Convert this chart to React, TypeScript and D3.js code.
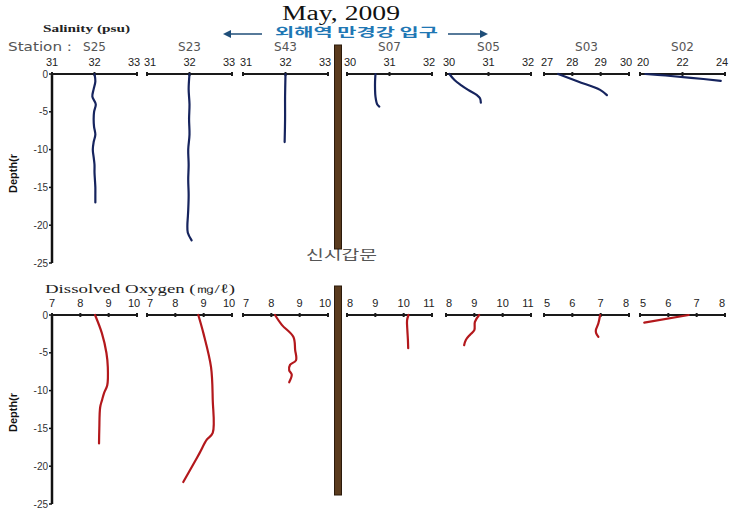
import React from "react";
import * as d3 from "d3";

const stations = ["S25", "S23", "S43", "S07", "S05", "S03", "S02"];
const salDomains: [number, number][] = [[31, 33], [31, 33], [31, 33], [30, 32], [30, 32], [27, 30], [20, 24]];
const salTicks: number[][] = [[31, 32, 33], [31, 32, 33], [31, 32, 33], [30, 31, 32], [30, 31, 32], [27, 28, 29, 30], [20, 22, 24]];
const doDomains: [number, number][] = [[7, 10], [7, 10], [7, 10], [8, 11], [8, 11], [5, 8], [5, 8]];
const doTicks: number[][] = [[7, 8, 9, 10], [7, 8, 9, 10], [7, 8, 9, 10], [8, 9, 10, 11], [8, 9, 10, 11], [5, 6, 7, 8], [5, 6, 7, 8]];
const depthTicks = [0, -5, -10, -15, -20, -25];

// [depth, salinity]
const salS25: [number, number][] = [[0, 32.0], [-1, 32.02], [-2, 31.98], [-3, 31.95], [-4, 32.03], [-5, 31.99], [-6, 31.98], [-7, 31.99], [-8, 32.02], [-9, 31.98], [-10, 31.96], [-11, 31.98], [-12, 32.0], [-13, 32.0], [-14, 32.01], [-15, 32.02], [-16, 32.02], [-17, 32.02]];
const salS23: [number, number][] = [[0, 32.0], [-2, 31.98], [-4, 32.0], [-6, 31.99], [-8, 32.0], [-10, 31.97], [-12, 31.98], [-14, 31.97], [-16, 31.98], [-18, 31.97], [-19, 31.96], [-20, 31.95], [-21, 31.96], [-22, 32.05]];
const salS43: [number, number][] = [[0, 32.0], [-3, 31.99], [-6, 31.99], [-9, 31.98]];
const salS07: [number, number][] = [[0, 30.67], [-1, 30.66], [-2, 30.66], [-3, 30.67], [-4, 30.71], [-4.3, 30.76]];
const salS05: [number, number][] = [[0, 30.08], [-0.8, 30.2], [-1.5, 30.36], [-2.1, 30.52], [-2.8, 30.73], [-3.2, 30.8], [-3.8, 30.82]];
const salS03: [number, number][] = [[0, 27.5], [-1, 28.2], [-2.1, 28.98], [-2.8, 29.22]];
const salS02: [number, number][] = [[0, 20.25], [-0.2, 21.2], [-0.5, 22.4], [-0.9, 23.8]];
const salinity = [salS25, salS23, salS43, salS07, salS05, salS03, salS02];

// [depth, dissolved oxygen]
const doS25: [number, number][] = [[0, 8.52], [-2.4, 8.76], [-5, 8.92], [-6.9, 8.97], [-9.3, 8.95], [-10.3, 8.84], [-11.2, 8.77], [-12.2, 8.7], [-15, 8.67], [-17, 8.66]];
const doS23: [number, number][] = [[0, 8.81], [-2.4, 8.99], [-6.9, 9.26], [-11.2, 9.32], [-15.6, 9.32], [-16.5, 9.11], [-18.3, 8.85], [-20.1, 8.58], [-22.1, 8.28]];
const doS43: [number, number][] = [[0, 8.13], [-1.3, 8.37], [-2.9, 8.78], [-4.6, 8.84], [-6.0, 8.87], [-6.6, 8.66], [-7.3, 8.63], [-7.9, 8.72], [-8.9, 8.63]];
const doS07: [number, number][] = [[0, 10.17], [-0.7, 10.12], [-2, 10.13], [-3.3, 10.15], [-4.4, 10.16]];
const doS05: [number, number][] = [[0, 9.17], [-0.9, 9.02], [-2.0, 9.0], [-2.6, 8.85], [-3.3, 8.7], [-4.0, 8.64]];
const doS03: [number, number][] = [[0, 6.98], [-1.1, 6.92], [-2.0, 6.83], [-2.4, 6.84], [-2.9, 6.92]];
const doS02: [number, number][] = [[0, 6.72], [-1.0, 5.15]];
const oxygen = [doS25, doS23, doS43, doS07, doS05, doS03, doS02];

const panelLeft = [52, 147, 243, 347, 446, 544, 640];
const panelWidth = 85;
const tickFont = "Liberation Sans Narrow, Liberation Sans, Arial, sans-serif";

function Panel({ i, y0, domains, ticks, data, color, depth }: any) {
  const x = d3.scaleLinear().domain(domains[i]).range([panelLeft[i], panelLeft[i] + panelWidth]);
  const line = d3
    .line<[number, number]>()
    .x((d) => x(d[1]))
    .y((d) => depth(d[0]))
    .curve(d3.curveCatmullRom);
  const tk: number[] = ticks[i];
  return (
    <g>
      <line x1={x.range()[0]} x2={x.range()[1]} y1={y0} y2={y0} stroke="#1a1a1a" strokeWidth={2} />
      {tk.map((t: number, j: number) => {
        const shift = i === 0 && j === 0 ? 0 : j === 0 ? 3 : j === tk.length - 1 ? -3 : 0;
        return (
          <g key={t}>
            <line x1={x(t)} x2={x(t)} y1={y0 - 2} y2={y0 + 2} stroke="#1a1a1a" strokeWidth={2} />
            <text x={x(t) + shift} y={y0 - 8} textAnchor="middle" fontSize={11} fontFamily={tickFont} fill="#222">
              {t}
            </text>
          </g>
        );
      })}
      <path d={line(data[i]) || ""} fill="none" stroke={color} strokeWidth={2.2} strokeLinecap="round" />
    </g>
  );
}

function DepthAxis({ depth, x0, labelShift }: any) {
  const r = depth.range();
  return (
    <g>
      <line x1={x0} x2={x0} y1={r[0]} y2={r[1]} stroke="#111" strokeWidth={2.5} />
      {depthTicks.map((t) => (
        <g key={t}>
          <line x1={x0 - 3} x2={x0} y1={depth(t)} y2={depth(t)} stroke="#111" strokeWidth={1.5} />
          <text x={x0 - 4} y={depth(t) + 3.5} textAnchor="end" fontSize={10} fontFamily="Liberation Sans, Arial, sans-serif" fill="#333">
            {t}
          </text>
        </g>
      ))}
      <text
        transform={`translate(17,${(r[0] + r[1]) / 2 + labelShift}) rotate(-90)`}
        textAnchor="middle"
        fontSize={11}
        fontWeight="bold"
        fontFamily="Liberation Sans Narrow, Liberation Sans, Arial, sans-serif"
        fill="#111"
      >
        Depth(r
      </text>
    </g>
  );
}

export default function App() {
  const W = 751;
  const H = 513;
  const depthTop = d3.scaleLinear().domain([0, -25]).range([74, 263]);
  const depthBot = d3.scaleLinear().domain([0, -25]).range([315, 504]);
  const salColor = "#16245e";
  const doColor = "#b3181c";
  return (
    <svg width={W} height={H} style={{ position: "absolute", left: 0, top: 0, background: "#fff" }}>
      <rect x={0} y={0} width={W} height={H} fill="#fff" />
      <text x={341} y={20} textAnchor="middle" fontSize={20} fontFamily="Liberation Serif, Times New Roman, serif" fill="#111" textLength={118} lengthAdjust="spacingAndGlyphs">
        May, 2009
      </text>
      <text x={43} y={32} fontSize={11} fontWeight="bold" fontFamily="Liberation Serif, serif" fill="#222" textLength={87} lengthAdjust="spacingAndGlyphs">
        Salinity (psu)
      </text>
      <text x={8} y={51} fontSize={12} fontFamily="DejaVu Sans, sans-serif" fill="#555" textLength={64} lengthAdjust="spacingAndGlyphs">
        Station :
      </text>
      {stations.map((s, i) => (
        <text key={s} x={panelLeft[i] + panelWidth / 2} y={51} textAnchor="middle" fontSize={12} fontFamily="DejaVu Sans, sans-serif" fill="#555">
          {s}
        </text>
      ))}
      <defs>
        <marker id="ah" markerWidth={8} markerHeight={8} refX={6} refY={4} orient="auto" markerUnits="userSpaceOnUse">
          <path d="M0,0 L8,4 L0,8 Z" fill="#1f4e79" />
        </marker>
      </defs>
      <line x1={262} y1={34} x2={225} y2={34} stroke="#1f4e79" strokeWidth={1.5} markerEnd="url(#ah)" />
      <line x1={448} y1={34} x2={486} y2={34} stroke="#1f4e79" strokeWidth={1.5} markerEnd="url(#ah)" />
      <text x={275} y={37} fontSize={12} fontWeight="bold" fontFamily="Noto Sans CJK KR, sans-serif" fill="#1f77b4" textLength={163} lengthAdjust="spacingAndGlyphs">
        외해역 만경강 입구
      </text>

      <DepthAxis depth={depthTop} x0={52} labelShift={5} />
      {stations.map((s, i) => (
        <Panel key={s} i={i} y0={74} domains={salDomains} ticks={salTicks} data={salinity} color={salColor} depth={depthTop} />
      ))}

      <text x={306} y={259} fontSize={13} fontFamily="Noto Sans CJK KR, sans-serif" fill="#555" textLength={71} lengthAdjust="spacingAndGlyphs">
        신시갑문
      </text>
      <rect x={334.5} y={45} width={7} height={204} fill="#5a3b1e" stroke="#2b1a0b" strokeWidth={1} />

      <text x={45} y={293} fontSize={13} fontFamily="Liberation Serif, serif" fill="#222" textLength={190} lengthAdjust="spacingAndGlyphs">
        Dissolved Oxygen (㎎/ℓ)
      </text>
      <DepthAxis depth={depthBot} x0={52} labelShift={3} />
      {stations.map((s, i) => (
        <Panel key={s} i={i} y0={315} domains={doDomains} ticks={doTicks} data={oxygen} color={doColor} depth={depthBot} />
      ))}
      <rect x={334.5} y={286} width={7} height={209} fill="#5a3b1e" stroke="#2b1a0b" strokeWidth={1} />
    </svg>
  );
}
